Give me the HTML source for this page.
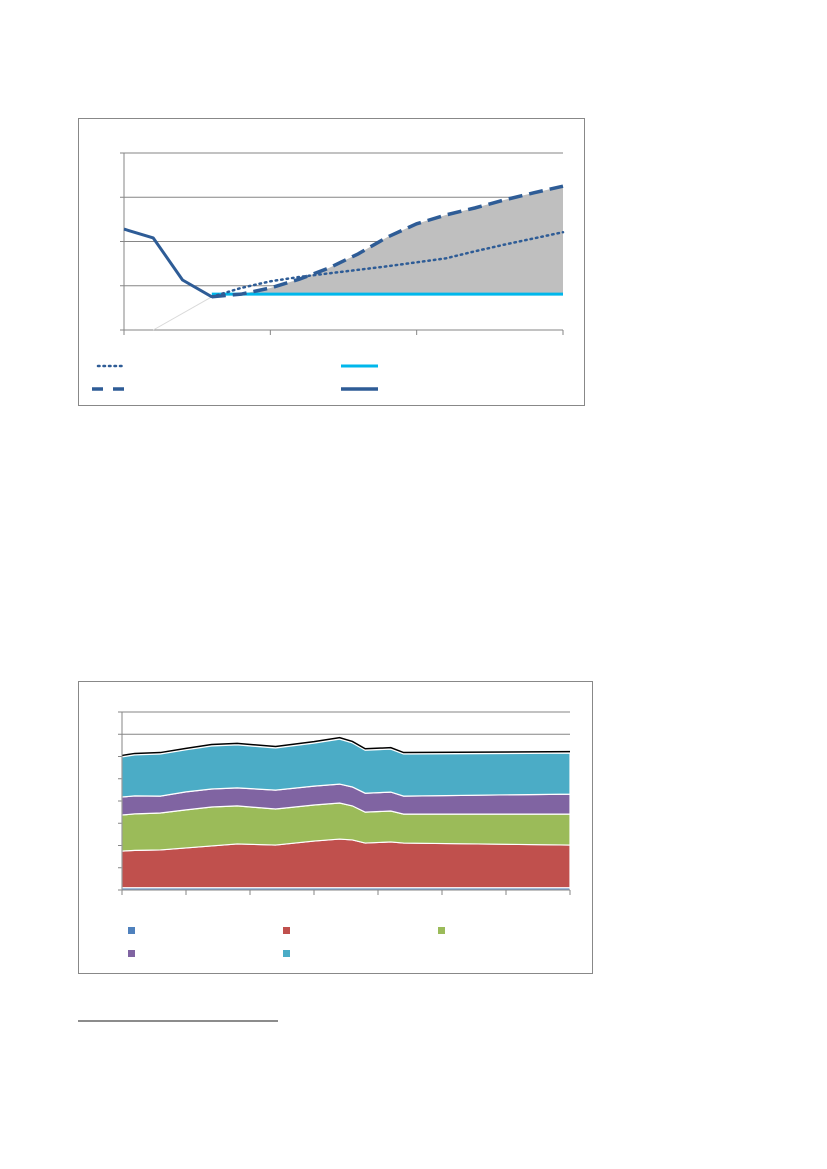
<!DOCTYPE html>
<html><head><meta charset="utf-8"><style>
html,body{margin:0;padding:0;background:#fff;}
body{width:827px;height:1169px;position:relative;overflow:hidden;font-family:"Liberation Sans",sans-serif;}
svg{position:absolute;left:0;top:0;}
</style></head><body>
<svg id="s" width="827" height="1169">
  <rect x="78.5" y="118.5" width="506" height="287" fill="#fff" stroke="#888"/>
  <rect x="78.5" y="681.5" width="514" height="292" fill="#fff" stroke="#888"/>
  <line x1="78" y1="1021" x2="278" y2="1021" stroke="#666" stroke-width="1.5"/>
  <g id="c1"></g>
  <g id="c2"></g>
</svg>
<script>
// ---- Chart 1 data ----
const c1Periods = 16;
const c1Historic = [2.28, 2.08, 1.13, 0.75];
const c1Flat = [null,null,null,0.81,0.81,0.81,0.81,0.81,0.81,0.81,0.81,0.81,0.81,0.81,0.81,0.81];
const c1Dashed = [null,null,null,0.75,0.81,0.95,1.15,1.40,1.72,2.10,2.40,2.60,2.76,2.94,3.10,3.25];
const c1Dotted = [null,null,null,0.75,0.95,1.10,1.20,1.28,1.36,1.44,1.53,1.62,1.78,1.93,2.07,2.21];
const c1YTicks = [0,1,2,3,4];
const c1XTicks = [0,5,10,15];
// ---- Chart 2 data ----
const c2T = [0,1,3,5,7,9,12,15,17,18,19,21,22,35];
const c2Blue   = [0.1,0.1,0.1,0.1,0.1,0.1,0.1,0.1,0.1,0.1,0.1,0.1,0.1,0.1];
const c2Red    = [1.65,1.68,1.70,1.79,1.88,1.97,1.92,2.10,2.19,2.15,2.01,2.06,2.01,1.92];
const c2Green  = [1.62,1.64,1.66,1.71,1.75,1.71,1.62,1.62,1.62,1.53,1.39,1.39,1.30,1.39];
const c2Purple = [0.81,0.81,0.76,0.81,0.81,0.81,0.85,0.85,0.85,0.85,0.85,0.85,0.81,0.90];
const c2Cyan   = [1.80,1.84,1.89,1.89,1.93,1.93,1.89,1.93,2.02,1.98,1.93,1.93,1.89,1.84];
const c2YTicks = [0,1,2,3,4,5,6,7,8];
const c2XTicks = [0,5,10,15,20,25,30,35];

const NS="http://www.w3.org/2000/svg";
function mk(p,tag,attrs){const e=document.createElementNS(NS,tag);for(const k in attrs)e.setAttribute(k,attrs[k]);p.appendChild(e);return e;}

// Chart 1
(function(){
  const g=document.getElementById('c1');
  const x=i=>124+i*(563-124)/(c1Periods-1);
  const y=v=>330-v*(330-153)/4;
  c1YTicks.forEach(t=>{
    if(t>0){const l=mk(g,'line',{x1:124,x2:563,y1:y(t),y2:y(t),stroke:'#868686','stroke-width':1});
    
    }
    const tk=mk(g,'line',{x1:120,x2:124,y1:y(t),y2:y(t),stroke:'#868686'});
    
    
  });
  // shaded area between flat and dashed
  let top=[],bot=[];
  c1Dashed.forEach((v,i)=>{if(v!==null){top.push(x(i)+','+y(Math.max(v,c1Flat[i])));bot.unshift(x(i)+','+y(c1Flat[i]));}});
  const area=mk(g,'polygon',{points:top.concat(bot).join(' '),fill:'#bfbfbf'});
  
  
  const ax=mk(g,'line',{x1:124,x2:563,y1:330,y2:330,stroke:'#868686'});
  
  
  const ay=mk(g,'line',{x1:124,x2:124,y1:153,y2:330,stroke:'#868686'});
  
  
  c1XTicks.forEach(t=>{const l=mk(g,'line',{x1:x(t),x2:x(t),y1:330,y2:335,stroke:'#868686'});
    
    });
  const faint=mk(g,'line',{x1:x(1),y1:330,x2:x(3),y2:y(c1Historic[3]),stroke:'#d9d9d9','stroke-width':1});
  
  
  const pts=a=>a.map((v,i)=>v===null?null:x(i)+','+y(v)).filter(Boolean).join(' ');
  const flat=mk(g,'polyline',{points:pts(c1Flat),fill:'none',stroke:'#00b7eb','stroke-width':3});
  
  
  const dot=mk(g,'polyline',{points:pts(c1Dotted),fill:'none',stroke:'#2e5c96','stroke-width':2.5,'stroke-dasharray':'1.5 4','stroke-linecap':'round'});
  
  
  const dash=mk(g,'polyline',{points:pts(c1Dashed),fill:'none',stroke:'#2e5c96','stroke-width':3.5,'stroke-dasharray':'14 7'});
  
  
  const hist=mk(g,'polyline',{points:pts(c1Historic),fill:'none',stroke:'#2e5c96','stroke-width':3,'stroke-linejoin':'round'});
  
  
  // legend
  const l1=mk(g,'line',{x1:98,x2:123,y1:366,y2:366,stroke:'#2e5c96','stroke-width':2.5,'stroke-dasharray':'1.5 4','stroke-linecap':'round'});
  
  
  const l2=mk(g,'line',{x1:341,x2:378,y1:366,y2:366,stroke:'#00b7eb','stroke-width':3});
  
  
  const l3=mk(g,'line',{x1:92,x2:124,y1:389,y2:389,stroke:'#2e5c96','stroke-width':3.5,'stroke-dasharray':'11 10'});
  
  
  const l4=mk(g,'line',{x1:341,x2:378,y1:389,y2:389,stroke:'#2e5c96','stroke-width':3.5});
  
  
})();

// Chart 2
(function(){
  const g=document.getElementById('c2');
  const x=t=>122+t*(570-122)/35;
  const y=v=>890-v*(890-712)/8;
  c2YTicks.forEach(t=>{
    if(t>0){const l=mk(g,'line',{x1:122,x2:570,y1:y(t),y2:y(t),stroke:'#868686'});
    
    }
    const tk=mk(g,'line',{x1:118,x2:122,y1:y(t),y2:y(t),stroke:'#868686'});
    
    
  });
  const series=[[c2Blue,'#4f81bd','layer-blue'],[c2Red,'#c0504d','layer-red'],[c2Green,'#9bbb59','layer-green'],[c2Purple,'#8064a2','layer-purple'],[c2Cyan,'#4bacc6','layer-cyan']];
  let base=c2T.map(()=>0);
  series.forEach(([vals,col,name])=>{
    const topv=base.map((b,i)=>b+vals[i]);
    const ptsTop=c2T.map((t,i)=>x(t)+','+y(topv[i]));
    const ptsBot=c2T.map((t,i)=>x(t)+','+y(base[i])).reverse();
    const p=mk(g,'polygon',{points:ptsTop.concat(ptsBot).join(' '),fill:col,stroke:'#fff','stroke-width':1.2});
    
    
    base=topv;
  });
  const tl=mk(g,'polyline',{points:c2T.map((t,i)=>x(t)+','+(y(base[i])-1.5)).join(' '),fill:'none',stroke:'#000','stroke-width':1.5});
  
  
  const ax=mk(g,'line',{x1:122,x2:570,y1:890,y2:890,stroke:'#868686'});
  
  
  const ay=mk(g,'line',{x1:122,x2:122,y1:712,y2:890,stroke:'#868686'});
  
  
  c2XTicks.forEach(t=>{const l=mk(g,'line',{x1:x(t),x2:x(t),y1:890,y2:895,stroke:'#868686'});
    
    });
  const leg=[[128,927,'#4f81bd','legend-blue'],[283,927,'#c0504d','legend-red'],[438,927,'#9bbb59','legend-green'],[128,950,'#8064a2','legend-purple'],[283,950,'#4bacc6','legend-cyan']];
  leg.forEach(([lx,ly,c,n])=>{const r=mk(g,'rect',{x:lx,y:ly,width:7,height:7,fill:c});
    
    });
})();
</script>
</body></html>
